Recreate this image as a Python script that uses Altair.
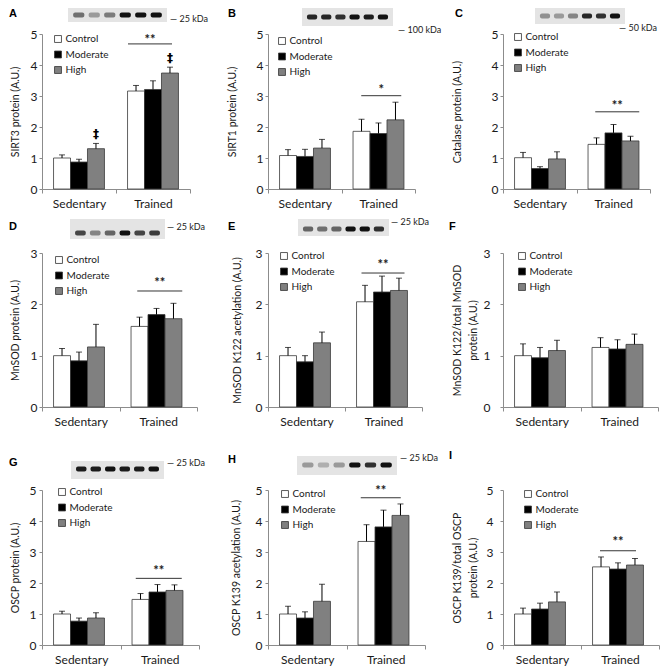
import altair as alt
import pandas as pd

# ---------------- data ----------------
GROUPS = ["Sedentary", "Trained"]
CONDITIONS = ["Control", "Moderate", "High"]
BAR_FILLS = ["#ffffff", "#000000", "#808080"]

# order: Sedentary Control, Moderate, High, Trained Control, Moderate, High
SIRT3_MEAN = [1.00, 0.87, 1.30, 3.16, 3.21, 3.74]
SIRT3_ERR = [0.10, 0.09, 0.17, 0.18, 0.28, 0.19]
SIRT1_MEAN = [1.08, 1.05, 1.32, 1.86, 1.79, 2.23]
SIRT1_ERR = [0.19, 0.23, 0.28, 0.39, 0.34, 0.57]
CATALASE_MEAN = [1.01, 0.66, 0.97, 1.44, 1.81, 1.55]
CATALASE_ERR = [0.17, 0.06, 0.23, 0.21, 0.27, 0.15]
MNSOD_MEAN = [1.00, 0.90, 1.17, 1.57, 1.80, 1.72]
MNSOD_ERR = [0.14, 0.17, 0.44, 0.18, 0.12, 0.30]
K122_MEAN = [1.00, 0.88, 1.25, 2.05, 2.24, 2.27]
K122_ERR = [0.16, 0.12, 0.21, 0.32, 0.31, 0.24]
K122_RATIO_MEAN = [1.00, 0.96, 1.10, 1.16, 1.13, 1.22]
K122_RATIO_ERR = [0.23, 0.20, 0.20, 0.19, 0.18, 0.20]
OSCP_MEAN = [1.00, 0.77, 0.87, 1.47, 1.71, 1.76]
OSCP_ERR = [0.09, 0.10, 0.17, 0.19, 0.24, 0.18]
K139_MEAN = [1.00, 0.87, 1.41, 3.34, 3.81, 4.18]
K139_ERR = [0.25, 0.20, 0.55, 0.54, 0.54, 0.37]
K139_RATIO_MEAN = [1.00, 1.16, 1.39, 2.52, 2.45, 2.58]
K139_RATIO_ERR = [0.19, 0.19, 0.32, 0.32, 0.20, 0.21]

# significance marks: (line value, text value, label)
SIG_A = (4.68, 4.91, "**")
SIG_B = (3.01, 3.30, "*")
SIG_C = (2.49, 2.78, "**")
SIG_D = (2.26, 2.47, "**")
SIG_E = (2.61, 2.83, "**")
SIG_G = (2.15, 2.47, "**")
SIG_H = (4.75, 5.05, "**")
SIG_I = (3.04, 3.43, "**")

DAGGER_A = [0, 0, 1, 0, 0, 1]
NO_DAGGER = [0, 0, 0, 0, 0, 0]

# western blot lane intensities (6 lanes)
BLOT_A = [0.55, 0.35, 0.5, 1.0, 1.0, 1.0]
BLOT_B = [0.9, 0.9, 0.85, 1.0, 0.95, 1.0]
BLOT_C = [0.4, 0.35, 0.45, 0.9, 0.85, 1.0]
BLOT_D = [0.75, 0.45, 0.6, 1.0, 0.75, 0.8]
BLOT_E = [0.6, 0.55, 0.6, 1.0, 1.0, 0.85]
BLOT_G = [0.95, 0.95, 1.0, 0.95, 0.95, 1.0]
BLOT_H = [0.35, 0.25, 0.35, 1.0, 0.85, 1.0]

# ---------------- layout ----------------
COL_L = [34, 43, 58]        # room left of each plot area
COL_W = [217, 220, 216]     # cell widths
ROW_T = [26, 36, 42]        # room above plot area
ROW_H = [155, 154, 155]     # plot heights
ROW_B = [28, 41, 21]        # room below plot area

PANELS = [
    dict(letter="A", ytitle="SIRT3 protein (A.U.)", ymax=5, mean=SIRT3_MEAN, err=SIRT3_ERR,
         sig=SIG_A, dag=DAGGER_A, blot=BLOT_A, kda="— 25 kDa",
         col=0, row=0, w=148, lx=11, ly=0, lp=2, tx=-22, sdx=(-25, 19),
         bgeo=(26, 125, -26, -12, -19), kpos=(128, -15), lpos=(-33, -20)),
    dict(letter="B", ytitle="SIRT1 protein (A.U.)", ymax=5, mean=SIRT1_MEAN, err=SIRT1_ERR,
         sig=SIG_B, dag=NO_DAGGER, blot=BLOT_B, kda="— 100 kDa",
         col=1, row=0, w=147, lx=9, ly=2, lp=2, tx=-31, sdx=(-17, 23),
         bgeo=(34, 125, -26, -8, -17), kpos=(130, -4), lpos=(-40, -20)),
    dict(letter="C", ytitle="Catalase protein (A.U.)", ymax=5, mean=CATALASE_MEAN, err=CATALASE_ERR,
         sig=SIG_C, dag=NO_DAGGER, blot=BLOT_C, kda="— 50 kDa",
         col=2, row=0, w=147, lx=10, ly=-2, lp=2, tx=-41, sdx=(-18, 26),
         bgeo=(32, 122, -26, -10, -18), kpos=(116, -6), lpos=(-48, -20)),
    dict(letter="D", ytitle="MnSOD protein (A.U.)", ymax=3, mean=MNSOD_MEAN, err=MNSOD_ERR,
         sig=SIG_D, dag=NO_DAGGER, blot=BLOT_D, kda="— 25 kDa",
         col=0, row=1, w=155, lx=12, ly=2, lp=2, tx=-22, sdx=(-21, 24),
         bgeo=(28, 123, -34, -14, -20), kpos=(125, -26), lpos=(-33, -26)),
    dict(letter="E", ytitle="MnSOD K122 acetylation (A.U.)", ymax=3, mean=K122_MEAN, err=K122_ERR,
         sig=SIG_E, dag=NO_DAGGER, blot=BLOT_E, kda="— 25 kDa",
         col=1, row=1, w=154, lx=11, ly=-2, lp=3, tx=-26, sdx=(-22, 21),
         bgeo=(30, 121, -34, -17, -24), kpos=(123, -31), lpos=(-40, -26)),
    dict(letter="F", ytitle=["MnSOD K122/total MnSOD", "protein (A.U.)"], ymax=3,
         mean=K122_RATIO_MEAN, err=K122_RATIO_ERR,
         sig=None, dag=NO_DAGGER, blot=None, kda=None,
         col=2, row=1, w=155, lx=14, ly=-2, lp=10, tx=-41, sdx=(0, 0),
         bgeo=None, kpos=None, lpos=(-54, -26)),
    dict(letter="G", ytitle="OSCP protein (A.U.)", ymax=5, mean=OSCP_MEAN, err=OSCP_ERR,
         sig=SIG_G, dag=NO_DAGGER, blot=BLOT_G, kda="— 25 kDa",
         col=0, row=2, w=157, lx=15, ly=-3, lp=3, tx=-22, sdx=(-24, 22),
         bgeo=(29, 122, -29, -11, -21), kpos=(125, -27), lpos=(-33, -27)),
    dict(letter="H", ytitle="OSCP K139 acetylation (A.U.)", ymax=5, mean=K139_MEAN, err=K139_ERR,
         sig=SIG_H, dag=NO_DAGGER, blot=BLOT_H, kda="— 25 kDa",
         col=1, row=2, w=157, lx=12, ly=-1, lp=3, tx=-27, sdx=(-25, 15),
         bgeo=(29, 129, -34, -15, -25), kpos=(132, -32), lpos=(-40, -30)),
    dict(letter="I", ytitle=["OSCP K139/total OSCP", "protein (A.U.)"], ymax=5,
         mean=K139_RATIO_MEAN, err=K139_RATIO_ERR,
         sig=SIG_I, dag=NO_DAGGER, blot=None, kda=None,
         col=2, row=2, w=156, lx=20, ly=-1, lp=7, tx=-41, sdx=(-20, 16),
         bgeo=None, kpos=None, lpos=(-54, -34)),
]

FONT = "Lato"
AXIS_GREY = "#8c8c8c"
INK = "#1a1a1a"


def one_row():
    return pd.DataFrame({"k": [0]})


def make_panel(p):
    col, row = p["col"], p["row"]
    L, CW = COL_L[col], COL_W[col]
    T, H, B = ROW_T[row], ROW_H[row], ROW_B[row]
    W = p["w"]
    ymax = p["ymax"]

    df = pd.DataFrame({
        "group": [g for g in GROUPS for _ in CONDITIONS],
        "cond": CONDITIONS * 2,
        "mean": p["mean"],
        "err": p["err"],
        "dag": p["dag"],
    })
    df["upper"] = df["mean"] + df["err"]

    xs = alt.Scale(domain=GROUPS, paddingInner=0, paddingOuter=0)
    xo = alt.Scale(domain=CONDITIONS, paddingInner=0, paddingOuter=0.68)
    ys = alt.Scale(domain=[0, ymax], nice=False, zero=True)
    x_axis = alt.Axis(title=None, labelAngle=0, tickBand="extent", tickSize=4,
                      labelPadding=5, labelFontSize=12, grid=False)
    y_axis = alt.Axis(title=p["ytitle"], values=list(range(ymax + 1)), grid=False,
                      tickSize=3, labelPadding=p["lp"], titleX=p["tx"], titleLineHeight=16,
                      labelFontSize=12, labelOverlap=False)
    X = alt.X("group:N", scale=xs, axis=x_axis)
    XO = alt.XOffset("cond:N", scale=xo)

    def Y(field):
        return alt.Y(field, scale=ys, axis=y_axis)

    layers = []
    # invisible frame fixing the cell extent
    layers.append(alt.Chart(one_row()).mark_rect(opacity=0).encode(
        x=alt.value(-L), x2=alt.value(CW - L), y=alt.value(-T), y2=alt.value(H + B)))

    if p["blot"] is not None:
        bx0, bx1, btop, bbot, bandy = p["bgeo"]
        layers.append(alt.Chart(one_row()).mark_rect(fill="#e4e4e4").encode(
            x=alt.value(bx0), x2=alt.value(bx1), y=alt.value(btop), y2=alt.value(bbot)))
        step = (bx1 - bx0 - 6) / 6.0
        for i, d in enumerate(p["blot"]):
            x0 = bx0 + 3 + i * step + step * 0.14
            layers.append(alt.Chart(one_row()).mark_rect(
                fill="#111111", cornerRadius=2, opacity=d).encode(
                x=alt.value(x0), x2=alt.value(x0 + step * 0.72),
                y=alt.value(bandy - 2.5), y2=alt.value(bandy + 2.5)))
        kx, ky = p["kpos"]
        layers.append(alt.Chart(one_row()).mark_text(
            text=p["kda"], align="left", baseline="middle", fontSize=9, font=FONT
        ).encode(x=alt.value(kx), y=alt.value(ky), fill=alt.value(INK)))

    base = alt.Chart(df)
    bars = base.mark_bar(stroke="#3a3a3a", strokeWidth=0.8).encode(
        x=X, xOffset=XO, y=Y("mean:Q"),
        fill=alt.Fill("cond:N", scale=alt.Scale(domain=CONDITIONS, range=BAR_FILLS),
                      legend=alt.Legend(
                          title=None, orient="none", legendX=p["lx"], legendY=p["ly"],
                          symbolType="square", symbolSize=48, symbolStrokeColor="#333333",
                          symbolStrokeWidth=0.8, labelFontSize=10, labelFont=FONT,
                          labelColor=INK, rowPadding=3.5, padding=0, labelOffset=2.5)),
    )
    errs = base.mark_rule(color="#000000", strokeWidth=1).encode(
        x=X, xOffset=XO, y=Y("mean:Q"), y2="upper:Q")
    caps = base.mark_tick(color="#000000", thickness=1, size=6).encode(
        x=X, xOffset=XO, y=Y("upper:Q"))
    layers += [bars, errs, caps]

    if any(p["dag"]):
        dag = base.transform_filter("datum.dag == 1").mark_text(
            text="‡", fontSize=12, fontWeight="bold", baseline="bottom", dy=-2,
            font="DejaVu Sans"
        ).encode(x=X, xOffset=XO, y=Y("upper:Q"), fill=alt.value("#000000"))
        layers.append(dag)

    if p["sig"] is not None:
        sdf = pd.DataFrame({"group": ["Trained"], "ly": [p["sig"][0]], "ty": [p["sig"][1]]})
        dx0, dx1 = p["sdx"]
        srule = alt.Chart(sdf).mark_rule(
            color="#000000", strokeWidth=0.8, xOffset=dx0, x2Offset=dx1
        ).encode(x=X, x2=alt.X2("group"), y=Y("ly:Q"))
        stext = alt.Chart(sdf).mark_text(
            text=p["sig"][2], fontSize=13, fontWeight="bold", baseline="middle",
            dx=(dx0 + dx1) / 2, dy=3, font=FONT
        ).encode(x=X, y=Y("ty:Q"), fill=alt.value(INK))
        layers += [srule, stext]

    lx, ly = p["lpos"]
    layers.append(alt.Chart(one_row()).mark_text(
        text=p["letter"], align="left", baseline="middle", fontSize=11,
        fontWeight="bold", font="Liberation Sans"
    ).encode(x=alt.value(lx), y=alt.value(ly), fill=alt.value("#000000")))

    return alt.layer(*layers).properties(width=W, height=H)


panels = [make_panel(p) for p in PANELS]

chart = alt.concat(*panels, columns=3, spacing=0, bounds="full").resolve_scale(
    fill="independent"
).properties(padding=0).configure_view(stroke=None).configure_axis(
    domainColor=AXIS_GREY, tickColor=AXIS_GREY, labelColor=INK, titleColor=INK,
    labelFont=FONT, titleFont=FONT, titleFontWeight="normal", titleFontSize=10.5,
    domainWidth=1, tickWidth=1
)

chart.save("out.html", embed_options={"renderer": "svg", "actions": False})
